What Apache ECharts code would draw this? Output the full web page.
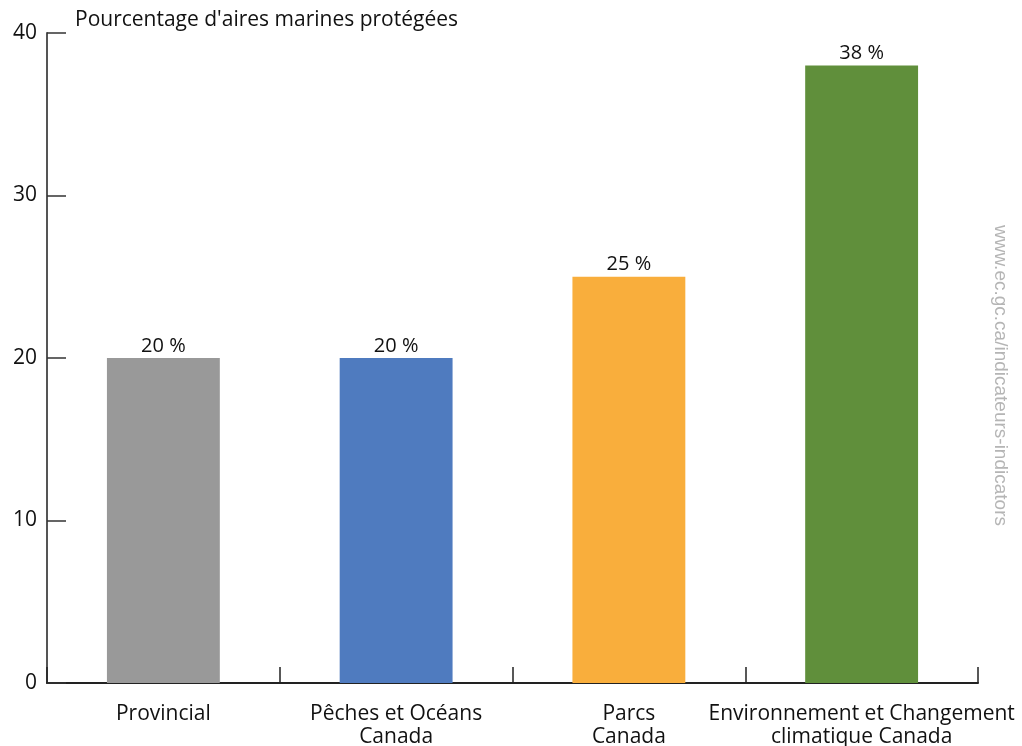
<!DOCTYPE html>
<html>
<head>
<meta charset="utf-8">
<script src="https://cdn.jsdelivr.net/npm/echarts@6/dist/echarts.min.js"></script>
<style>html,body{margin:0;padding:0;background:#fff}#c{width:1022px;height:746px}</style>
</head>
<body>
<div id="c"></div>
<script>
const categories = ["Provincial", "Pêches et Océans\nCanada", "Parcs\nCanada", "Environnement et Changement\nclimatique Canada"];
const values = [20, 20, 25, 38];
const barColors = ["#999999", "#4f7bbf", "#f9ae3c", "#608f3b"];
const yTicks = [0, 10, 20, 30, 40];
const yTitle = "Pourcentage d'aires marines protégées";
const watermark = "www.ec.gc.ca/indicateurs-indicators";

const FONT = "'Open Sans', Lato, sans-serif";
const chart = echarts.init(document.getElementById('c'));
chart.setOption({
  animation: false,
  backgroundColor: '#fff',
  textStyle: { fontFamily: FONT },
  grid: { left: 47, right: 44, top: 33, bottom: 63, containLabel: false, outerBoundsMode: 'none' },
  title: {
    text: yTitle, left: 70, top: 5,
    textStyle: { fontFamily: FONT, fontSize: 21, fontWeight: 'normal', color: '#111' }
  },
  xAxis: {
    type: 'category',
    data: categories,
    axisLine: { lineStyle: { color: '#222', width: 2 } },
    axisTick: { show: true, inside: true, length: 16, alignWithLabel: false, lineStyle: { color: '#222', width: 1.5 } },
    axisLabel: { fontFamily: FONT, fontSize: 21, color: '#111', margin: 20, lineHeight: 23, interval: 0 }
  },
  yAxis: {
    type: 'value', min: yTicks[0], max: yTicks[yTicks.length - 1], interval: 10,
    axisLine: { show: true, lineStyle: { color: '#555', width: 2 } },
    axisTick: { show: true, inside: true, length: 19, lineStyle: { color: '#333', width: 1.5 } },
    splitLine: { show: false },
    axisLabel: { fontFamily: FONT, fontSize: 21, color: '#111', margin: 10 }
  },
  series: [{
    type: 'bar',
    data: values.map((v, i) => ({ value: v, itemStyle: { color: barColors[i] } })),
    barWidth: '48.5%',
    label: {
      show: true, position: 'top', distance: 2,
      formatter: p => p.value + ' %',
      fontFamily: FONT, fontSize: 20, color: '#111'
    }
  }],
  graphic: [{
    type: 'text',
    x: 1000, y: 225,
    rotation: -Math.PI / 2,
    style: { text: watermark, fill: '#b5b5b5', font: '19px "Liberation Sans", sans-serif', textVerticalAlign: 'middle' }
  }]
});
</script>
</body>
</html>
